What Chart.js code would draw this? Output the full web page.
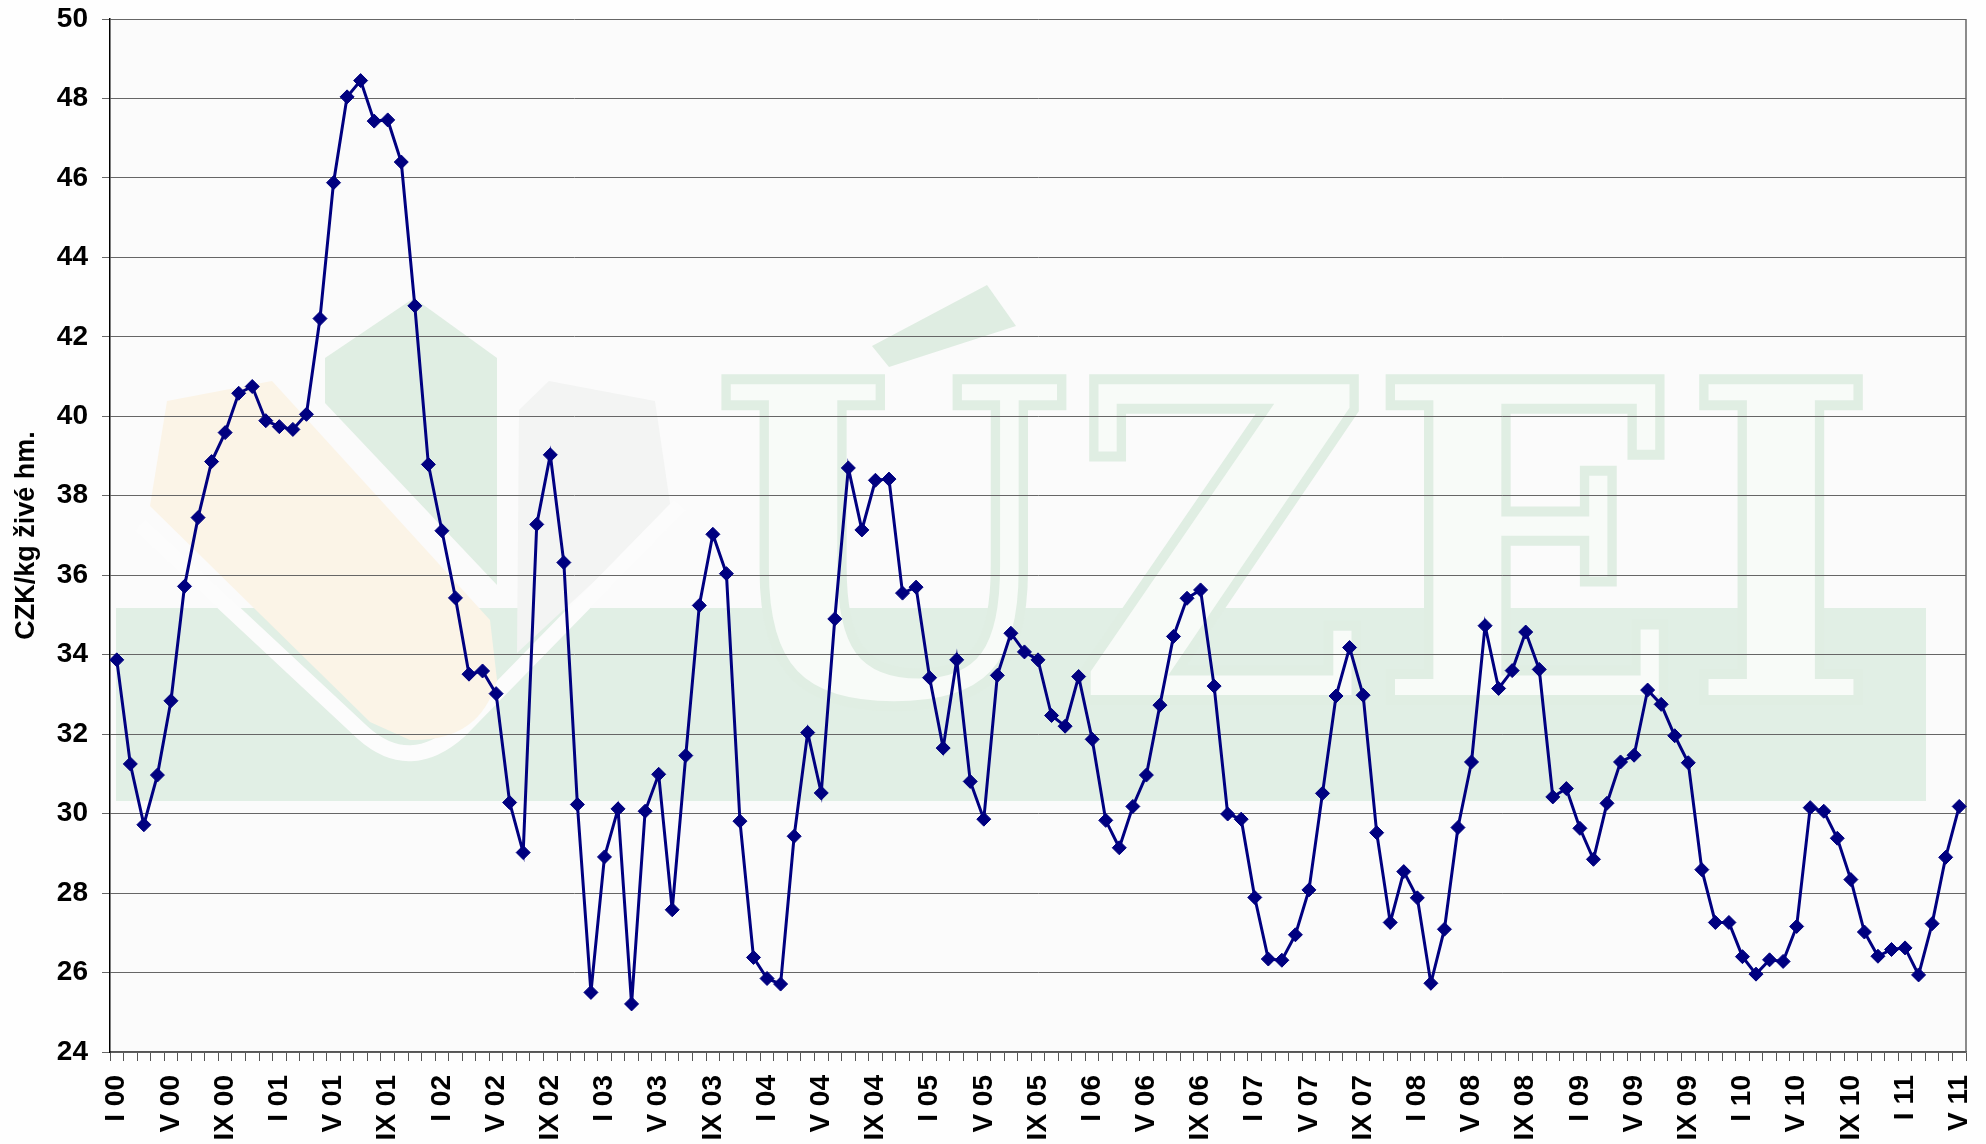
<!DOCTYPE html>
<html>
<head>
<meta charset="utf-8">
<script src="https://cdn.jsdelivr.net/npm/chart.js@4/dist/chart.umd.min.js"></script>
<style>
  html, body { margin: 0; padding: 0; background: #ffffff; }
  canvas { display: block; }
</style>
</head>
<body>
<canvas id="priceChart" width="1986" height="1144"></canvas>
<script>
// Monthly prices, CZK/kg live weight, I/2000 - V/2011
const p2000 = [33.87, 31.25, 29.72, 30.97, 32.84, 35.72, 37.45, 38.86, 39.59, 40.58, 40.75, 39.89];
const p2001 = [39.74, 39.67, 40.05, 42.46, 45.88, 48.04, 48.45, 47.43, 47.46, 46.40, 42.78, 38.79];
const p2002 = [37.12, 35.43, 33.51, 33.59, 33.02, 30.28, 29.02, 37.28, 39.03, 36.32, 30.23, 25.50];
const p2003 = [28.91, 30.12, 25.21, 30.06, 30.99, 27.58, 31.46, 35.24, 37.03, 36.04, 29.81, 26.38];
const p2004 = [25.85, 25.71, 29.43, 32.04, 30.52, 34.90, 38.70, 37.14, 38.39, 38.42, 35.55, 35.70];
const p2005 = [33.42, 31.65, 33.87, 30.81, 29.86, 33.48, 34.54, 34.07, 33.87, 32.47, 32.20, 33.45];
const p2006 = [31.87, 29.83, 29.14, 30.18, 30.97, 32.73, 34.46, 35.42, 35.63, 33.21, 29.99, 29.86];
const p2007 = [27.89, 26.34, 26.31, 26.95, 28.08, 30.51, 32.96, 34.18, 32.98, 29.52, 27.26, 28.54];
const p2008 = [27.88, 25.73, 27.09, 29.65, 31.30, 34.73, 33.15, 33.60, 34.57, 33.63, 30.42, 30.63];
const p2009 = [29.63, 28.85, 30.26, 31.30, 31.47, 33.11, 32.75, 31.96, 31.28, 28.59, 27.26, 27.26];
const p2010 = [26.40, 25.96, 26.32, 26.28, 27.16, 30.15, 30.06, 29.38, 28.34, 27.02, 26.41, 26.58];
const p2011 = [26.62, 25.94, 27.23, 28.90, 30.18];

const years = ['00', '01', '02', '03', '04', '05', '06', '07', '08', '09', '10', '11'];
const romanMonths = ['I', 'II', 'III', 'IV', 'V', 'VI', 'VII', 'VIII', 'IX', 'X', 'XI', 'XII'];
const yTicks = [24, 26, 28, 30, 32, 34, 36, 38, 40, 42, 44, 46, 48, 50];

const prices = [].concat(p2000, p2001, p2002, p2003, p2004, p2005, p2006,
                         p2007, p2008, p2009, p2010, p2011);

// category labels "I 00", "II 00", ... only every 4th one is shown
let categories = [];
years.forEach(y => romanMonths.forEach(m => categories.push(m + ' ' + y)));
categories = categories.slice(0, prices.length);

const tickFont = { family: '"Liberation Sans", Arial, sans-serif', size: 28, weight: 'bold' };

// faint UZEI logo in the plot background (drawn in reference pixel space, then scaled)
const watermark = {
  id: 'watermark',
  beforeDraw(chart) {
    const { ctx, chartArea: a } = chart;
    ctx.save();
    ctx.fillStyle = '#fefefe';
    ctx.fillRect(0, 0, chart.width, chart.height);
    ctx.beginPath();
    ctx.rect(a.left, a.top, a.width, a.height);
    ctx.clip();
    ctx.fillStyle = '#fbfbfb';
    ctx.fillRect(a.left, a.top, a.width, a.height);
    ctx.translate(a.left, a.top);
    ctx.scale(a.width / 1856, a.height / 1033);
    ctx.translate(-110, -19);

    const poly = (pts, color) => {
      ctx.beginPath();
      pts.forEach((p, i) => i ? ctx.lineTo(p[0], p[1]) : ctx.moveTo(p[0], p[1]));
      ctx.closePath();
      ctx.fillStyle = color;
      ctx.fill();
    };

    // green band
    ctx.fillStyle = '#e1efe5';
    ctx.fillRect(116, 608, 1810, 193);

    // grey hexagon
    poly([[519, 410], [549, 381], [655, 401], [671, 510], [517, 653]], '#f3f4f3');
    // green hexagon
    poly([[325, 358], [414, 298], [497, 358], [497, 585], [325, 403]], '#e0eee3');

    // white swoosh
    ctx.beginPath();
    ctx.moveTo(140, 525);
    ctx.lineTo(363, 733);
    ctx.quadraticCurveTo(410, 775, 460, 730);
    ctx.lineTo(680, 505);
    ctx.lineWidth = 16;
    ctx.lineJoin = 'round';
    ctx.strokeStyle = '#fcfcfc';
    ctx.stroke();

    // orange hexagon
    ctx.beginPath();
    ctx.moveTo(150, 506);
    ctx.lineTo(167, 401);
    ctx.lineTo(272, 381);
    ctx.lineTo(490, 620);
    ctx.lineTo(497, 680);
    ctx.quadraticCurveTo(480, 742, 410, 740);
    ctx.lineTo(370, 722);
    ctx.closePath();
    ctx.fillStyle = '#fbf4e7';
    ctx.fill();

    // accent over the U
    poly([[872, 346], [987, 285], [1016, 326], [889, 367]], '#dfede2');

    // letters
    ctx.font = 'bold 440px "DejaVu Serif", serif';
    ctx.textBaseline = 'alphabetic';
    const w = ctx.measureText('UZEI').width;
    ctx.translate(712, 700);
    ctx.scale(1165 / w, 1);
    ctx.lineJoin = 'miter';
    ctx.fillStyle = '#f8fbf8';
    ctx.fillText('UZEI', 0, 0);
    ctx.lineWidth = 10;
    ctx.strokeStyle = '#e0eee3';
    ctx.strokeText('UZEI', 0, 0);
    ctx.restore();
  },
  beforeDatasetsDraw(chart) {
    const { ctx, chartArea: a } = chart;
    ctx.save();
    ctx.strokeStyle = '#666';
    ctx.lineWidth = 1.5;
    ctx.beginPath();
    ctx.moveTo(a.right, a.top);
    ctx.lineTo(a.right, a.bottom);
    ctx.stroke();
    ctx.restore();
  }
};

const ctx = document.getElementById('priceChart').getContext('2d');
const priceChart = new Chart(ctx, {
  type: 'line',
  data: {
    labels: categories,
    datasets: [{
      data: prices,
      borderColor: '#000080',
      backgroundColor: '#000080',
      borderWidth: 3,
      tension: 0,
      pointStyle: 'rectRot',
      pointRadius: 7,
      pointBorderWidth: 1,
      pointBackgroundColor: '#000080',
      pointBorderColor: '#000080'
    }]
  },
  options: {
    responsive: false,
    animation: false,
    layout: { padding: { left: 8, right: 20, top: 19, bottom: 2 } },
    plugins: {
      legend: { display: false },
      tooltip: { enabled: false }
    },
    scales: {
      x: {
        offset: true,
        grid: { offset: true, drawOnChartArea: false, tickLength: 9, color: '#555', lineWidth: 1 },
        border: { color: '#555', width: 1.5 },
        ticks: {
          autoSkip: false,
          minRotation: 90,
          maxRotation: 90,
          padding: 14,
          color: '#000',
          font: tickFont,
          callback: (value, index) => index % 4 === 0 ? categories[index] : ''
        },
        afterFit: s => { s.height = 90; s.paddingLeft = 0; s.paddingRight = 0; }
      },
      y: {
        min: yTicks[0],
        max: yTicks[yTicks.length - 1],
        afterBuildTicks: scale => { scale.ticks = yTicks.map(v => ({ value: v })); },
        afterFit: s => { s.width = 102; s.paddingTop = 0; s.paddingBottom = 0; },
        grid: { color: '#666', lineWidth: 1, tickLength: 8 },
        border: { color: '#000', width: 1.5 },
        ticks: { padding: 14, color: '#000', font: tickFont },
        title: {
          display: true,
          text: 'CZK/kg živé hm.',
          color: '#000',
          font: { family: '"Liberation Sans", Arial, sans-serif', size: 27, weight: 'bold' },
          padding: { top: 2, bottom: 13 }
        }
      }
    }
  },
  plugins: [watermark]
});
</script>
</body>
</html>
